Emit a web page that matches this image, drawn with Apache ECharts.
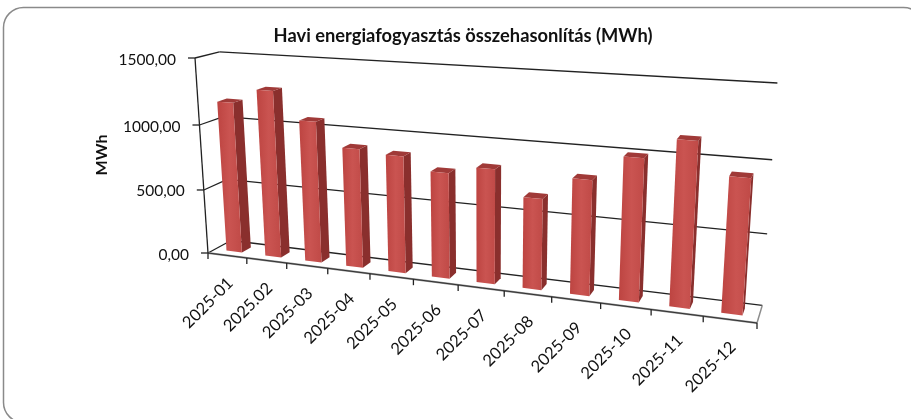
<!DOCTYPE html>
<html>
<head>
<meta charset="utf-8">
<style>
  html, body { margin: 0; padding: 0; background: #fff; overflow: hidden; }
  #chart { width: 911px; height: 419px; }
</style>
<script src="https://cdn.jsdelivr.net/npm/echarts@6/dist/echarts.min.js"></script>
</head>
<body>
<div id="chart"></div>
<script>
const categories = ['2025-01', '2025.02', '2025-03', '2025-04', '2025-05', '2025-06', '2025-07', '2025-08', '2025-09', '2025-10', '2025-11', '2025-12']
const consumption = [1165, 1275, 1070, 895, 870, 778, 835, 657, 820, 998, 1140, 925]
const yTicks = [0, 500, 1000, 1500]
const yMax = 1500
const chartTitle = 'Havi energiafogyasztás összehasonlítás (MWh)'
const yName = 'MWh'

const W = 911
const H = 419
const FONT = 'Lato'

// perspective box: cube corners on screen plus the perspective weights
const O = [208, 253]
const U = [757, 323]
const V = [195, 58]
const D = [231, 240.5]
const d1 = -0.163
const d2 = -0.045
const d3 = 0.035

function project(u, v, w) {
  const den = 1 + d1 * u + d2 * v + d3 * w
  const f = (k) => (O[k] + (U[k] * (1 + d1) - O[k]) * u + (V[k] * (1 + d2) - O[k]) * v + (D[k] * (1 + d3) - O[k]) * w) / den
  return [f(0), f(1)]
}

// axis value -> cube position, through the hidden cartesian axes
function cubeU(api, idx, offset) {
  const band = api.size([1, 0])[0]
  return (api.coord([idx, 0])[0] + (offset - 0.5) * band) / W
}
function cubeV(api, val) {
  return 1 - api.coord([0, val])[1] / H
}

function line(a, b, stroke, width) {
  return {
    type: 'line',
    shape: { x1: a[0], y1: a[1], x2: b[0], y2: b[1] },
    style: { stroke: stroke, lineWidth: width || 1.3 }
  }
}

function face(points, fill) {
  return { type: 'polygon', shape: { points: points }, style: { fill: fill } }
}

function renderWalls(params, api) {
  const tick = api.value(1)
  const v = cubeV(api, tick)
  const a = project(0, v, 0)
  const b = project(0, v, 1)
  const c = project(1, v, 1)
  const children = [
    line(a, b, '#222'),
    line(b, c, '#222'),
    line([a[0] - 7, a[1]], a, '#222')
  ]
  children.push({
    type: 'text',
    style: {
      x: a[0] - 19,
      y: a[1] + 1.5,
      text: tick.toFixed(2).replace('.', ','),
      fill: '#111',
      font: '15.5px ' + FONT,
      align: 'right',
      verticalAlign: 'middle'
    }
  })
  return { type: 'group', children: children }
}

function renderBars(params, api) {
  const i = api.value(0)
  const v = cubeV(api, api.value(1))
  const u0 = cubeU(api, i, 0.3)
  const u1 = cubeU(api, i, 0.7)
  const w0 = 0.3
  const w1 = 0.7
  const frontFill = {
    type: 'linear', x: 0, y: 0, x2: 1, y2: 0,
    colorStops: [
      { offset: 0, color: '#bd4441' },
      { offset: 0.5, color: '#ca5451' },
      { offset: 1, color: '#c04a47' }
    ]
  }
  return {
    type: 'group',
    children: [
      face([project(u1, 0, w0), project(u1, 0, w1), project(u1, v, w1), project(u1, v, w0)], '#8a2f2d'),
      face([project(u0, v, w0), project(u1, v, w0), project(u1, v, w1), project(u0, v, w1)], '#a03a38'),
      face([project(u0, 0, w0), project(u1, 0, w0), project(u1, v, w0), project(u0, v, w0)], frontFill)
    ]
  }
}

function renderCategory(params, api) {
  const i = api.value(0)
  const u1 = cubeU(api, i, 1)
  const um = cubeU(api, i, 0.5)
  const t = project(u1, 0, 0)
  const m = project(um, 0, 0)
  return {
    type: 'group',
    children: [
      line(t, [t[0], t[1] + 6], '#222'),
      {
        type: 'text',
        x: m[0] + 3,
        y: m[1] + 25,
        rotation: Math.PI / 4,
        style: {
          x: 0,
          y: 0,
          text: categories[i],
          fill: '#111',
          font: '16.5px ' + FONT,
          align: 'right',
          verticalAlign: 'middle'
        }
      }
    ]
  }
}

// floor outline, one item only
function renderFloor() {
  return {
    type: 'group',
    children: [
      line(project(1, 0, 0), project(1, 0, 1), '#8c8c8c', 1.5),
      line(project(0, 0, 0), project(1, 0, 0), '#8c8c8c', 2),
      line(project(0, 0, 0), project(1, 0, 0), '#333', 1),
      line(project(0, 0, 0), project(0, 1, 0), '#222', 1.3),
      line(project(0, 0, 0), [O[0], O[1] + 6], '#222')
    ]
  }
}

const chart = echarts.init(document.getElementById('chart'))
chart.setOption({
  animation: false,
  backgroundColor: '#fff',
  title: {
    text: chartTitle,
    left: 458,
    top: 22,
    textAlign: 'center',
    textStyle: { fontFamily: FONT, fontSize: 18.3, fontWeight: 'bold', color: '#111' }
  },
  grid: { left: 0, right: 0, top: 0, bottom: 0 },
  xAxis: { type: 'category', data: categories, show: false },
  yAxis: { type: 'value', min: 0, max: yMax, interval: 500, show: false },
  graphic: [
    {
      type: 'rect',
      shape: { x: 3.5, y: 7.5, width: 920, height: 415, r: 20 },
      style: { fill: '#fff', stroke: '#8a8a8a', lineWidth: 1.5 },
      z: -1
    },
    {
      type: 'text',
      x: 102,
      y: 155,
      rotation: Math.PI / 2,
      style: {
        text: yName,
        fill: '#111',
        font: 'bold 16px ' + FONT,
        align: 'center',
        verticalAlign: 'middle'
      }
    }
  ],
  series: [
    {
      type: 'custom',
      renderItem: renderWalls,
      data: yTicks.map((t) => [0, t]),
      encode: { x: 0, y: 1 },
      clip: false,
      silent: true,
      z: 1
    },
    {
      type: 'custom',
      renderItem: renderFloor,
      data: [[0, 0]],
      encode: { x: 0, y: 1 },
      clip: false,
      silent: true,
      z: 2
    },
    {
      type: 'custom',
      renderItem: renderCategory,
      data: categories.map((c, i) => [i, 0]),
      encode: { x: 0, y: 1 },
      clip: false,
      silent: true,
      z: 2
    },
    {
      type: 'custom',
      name: yName,
      renderItem: renderBars,
      data: consumption.map((v, i) => [i, v]),
      encode: { x: 0, y: 1 },
      clip: false,
      z: 3
    }
  ]
})
</script>
</body>
</html>
